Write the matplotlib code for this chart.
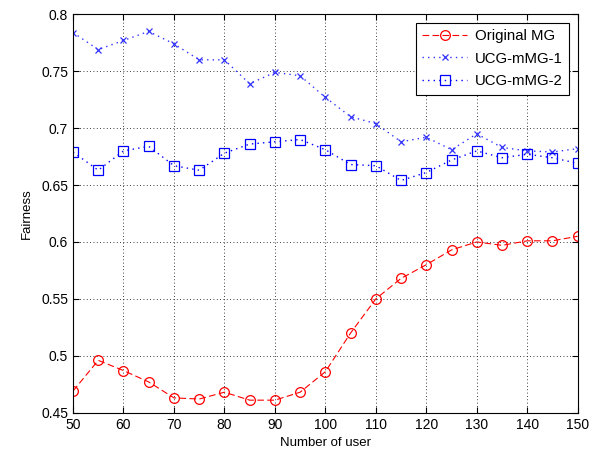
import matplotlib
matplotlib.use("Agg")
import matplotlib.pyplot as plt
from matplotlib.ticker import FuncFormatter

users = [50, 55, 60, 65, 70, 75, 80, 85, 90, 95, 100, 105, 110, 115, 120, 125, 130, 135, 140, 145, 150]
original_mg = [0.469, 0.496, 0.487, 0.477, 0.463, 0.462, 0.468, 0.461, 0.461, 0.468, 0.486,
               0.520, 0.550, 0.568, 0.580, 0.593, 0.600, 0.597, 0.601, 0.601, 0.605]
ucg_mmg1 = [0.784, 0.769, 0.777, 0.785, 0.774, 0.760, 0.760, 0.739, 0.749, 0.746, 0.727,
            0.710, 0.704, 0.688, 0.692, 0.681, 0.695, 0.683, 0.680, 0.679, 0.682]
ucg_mmg2 = [0.679, 0.663, 0.680, 0.684, 0.667, 0.663, 0.678, 0.686, 0.688, 0.690, 0.681,
            0.668, 0.667, 0.654, 0.661, 0.672, 0.680, 0.674, 0.677, 0.674, 0.669]

plt.rcParams['font.family'] = ['Liberation Sans', 'DejaVu Sans']

fig = plt.figure(figsize=(5.97, 4.54), dpi=100)
ax = fig.add_axes([0.1223, 0.091, 0.8454, 0.8775])

ax.plot(users, original_mg, color='#ff0000', linestyle=(0, (6, 3)), linewidth=0.8,
        marker='o', markersize=7, markerfacecolor='none', markeredgecolor='#ff0000',
        markeredgewidth=0.9, label='Original MG')
ax.plot(users, ucg_mmg1, color='#3333ff', linestyle=(0, (1, 3)), linewidth=1.0,
        marker='x', markersize=4.5, markeredgewidth=0.9, label='UCG-mMG-1')
ax.plot(users, ucg_mmg2, color='#0000ff', linestyle=(0, (1, 3)), linewidth=1.0,
        marker='s', markersize=7.5, markerfacecolor='none', markeredgecolor='#0000ff',
        markeredgewidth=0.9, label='UCG-mMG-2')

ax.set_xlim(50, 150)
ax.set_ylim(0.45, 0.8)
ax.set_xticks(range(50, 151, 10))
ax.set_yticks([0.45, 0.5, 0.55, 0.6, 0.65, 0.7, 0.75, 0.8])
ax.yaxis.set_major_formatter(FuncFormatter(lambda v, p: '%g' % round(v, 2)))
ax.grid(True, color='black', linestyle=(0, (1, 3)), linewidth=0.6)
ax.tick_params(direction='in', length=4, labelsize=10, top=True, right=True, labeltop=False, labelright=False)
for s in ax.spines.values():
    s.set_linewidth(0.8)

ax.set_xlabel('Number of user', fontsize=9.5, labelpad=4)
ax.set_ylabel('Fairness', fontsize=9.5, labelpad=6)

leg = ax.legend(loc='upper right', fontsize=10.8, fancybox=False, edgecolor='black',
                framealpha=1, handlelength=3.0, handletextpad=0.5, borderaxespad=0.55,
                labelspacing=0.55, borderpad=0.45)
leg.get_frame().set_linewidth(0.8)

fig.savefig('out.png', dpi=100)
